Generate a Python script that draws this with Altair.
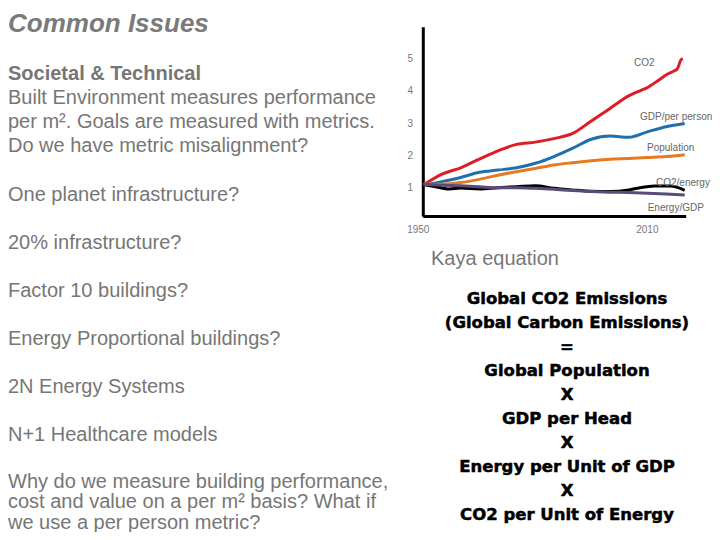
import altair as alt
import pandas as pd

# ---------------- data ----------------
co2_years = [1950, 1955, 1960, 1965, 1970, 1975, 1980, 1985, 1990, 1995, 2000, 2005, 2008, 2010, 2013, 2015, 2017, 2018, 2019, 2019.5]
co2_vals = [1.08, 1.42, 1.62, 1.89, 2.15, 2.35, 2.42, 2.53, 2.69, 3.08, 3.47, 3.86, 4.02, 4.12, 4.35, 4.51, 4.63, 4.70, 4.98, 5.02]

gdp_years = [1950, 1955, 1960, 1965, 1970, 1975, 1980, 1985, 1990, 1995, 2000, 2005, 2010, 2015, 2020]
gdp_vals = [1.08, 1.19, 1.32, 1.48, 1.55, 1.62, 1.76, 1.97, 2.23, 2.51, 2.61, 2.57, 2.74, 2.90, 3.00]

pop_years = [1950, 1955, 1960, 1965, 1970, 1975, 1980, 1985, 1990, 1995, 2000, 2005, 2010, 2015, 2020]
pop_vals = [1.11, 1.11, 1.16, 1.26, 1.39, 1.50, 1.60, 1.71, 1.78, 1.84, 1.89, 1.91, 1.94, 1.97, 2.03]

ce_years = [1950, 1953, 1957, 1960, 1965, 1970, 1975, 1980, 1985, 1990, 1995, 2000, 2005, 2008, 2012, 2016, 2018, 2020]
ce_vals = [1.10, 1.04, 0.96, 0.99, 0.96, 1.00, 1.03, 1.06, 0.98, 0.93, 0.89, 0.88, 0.93, 1.00, 1.05, 1.05, 1.01, 0.92]

eg_years = [1950, 1955, 1960, 1965, 1970, 1975, 1980, 1985, 1990, 1995, 2000, 2005, 2010, 2015, 2020]
eg_vals = [1.11, 1.08, 1.06, 1.03, 1.00, 1.00, 0.98, 0.95, 0.91, 0.88, 0.86, 0.85, 0.83, 0.80, 0.77]

series_names = ["CO2", "GDP/per person", "Population", "CO2/energy", "Energy/GDP"]
series_colors = ["#dd1c24", "#1f6fae", "#e57a20", "#000000", "#5b4b78"]

y_ticks = [1, 2, 3, 4, 5]
x_labels = [1950, 2010]

left_lines = [
    "Built Environment measures performance",
    "per m\u00b2. Goals are measured with metrics.",
    "Do we have metric misalignment?",
]
bullets = [
    "One planet infrastructure?",
    "20% infrastructure?",
    "Factor 10 buildings?",
    "Energy Proportional buildings?",
    "2N Energy Systems",
    "N+1 Healthcare models",
]
last_lines = [
    "Why do we measure building performance,",
    "cost and value on a per m\u00b2  basis? What if",
    "we use a per person metric?",
]
equation = [
    "Global CO2 Emissions",
    "(Global Carbon Emissions)",
    "=",
    "Global Population",
    "X",
    "GDP per Head",
    "X",
    "Energy per Unit of GDP",
    "X",
    "CO2 per Unit of Energy",
]

# ---------------- scales ----------------
xs = alt.Scale(domain=[1950, 2020], range=[415.3, 676.7], nice=False, zero=False)
ys = alt.Scale(domain=[0, 5], range=[211.8, 51.3], nice=False, zero=False)

FONT = "Liberation Sans"
GRAY = "#767676"


def line_layer(years, vals, color):
    df = pd.DataFrame({"year": years, "value": vals})
    return alt.Chart(df).mark_line(strokeWidth=3, color=color, interpolate="monotone").encode(
        x=alt.X("year:Q", scale=xs, axis=None),
        y=alt.Y("value:Q", scale=ys, axis=None),
        order="year:Q",
    )


def text_layer(s, x, y, size, color=GRAY, weight="normal", style="normal", align="left",
               font=FONT, stroke_w=0):
    kw = {}
    if stroke_w:
        kw = {"stroke": color, "strokeWidth": stroke_w}
    return alt.Chart(pd.DataFrame({"t": [s]})).mark_text(
        align=align, baseline="alphabetic", fontSize=size, font=font,
        fontWeight=weight, fontStyle=style, color=color, **kw,
    ).encode(x=alt.value(x), y=alt.value(y), text="t:N")


layers = []

# axes (drawn in data space)
vaxis = alt.Chart(pd.DataFrame({"year": [1950], "y1": [0.1], "y2": [6.0]})).mark_rule(
    strokeWidth=3, color="black"
).encode(x=alt.X("year:Q", scale=xs, axis=None), y=alt.Y("y1:Q", scale=ys, axis=None), y2="y2:Q")
haxis = alt.Chart(pd.DataFrame({"x1": [1950], "x2": [2020.4], "y": [0.1]})).mark_rule(
    strokeWidth=3, color="black"
).encode(x=alt.X("x1:Q", scale=xs, axis=None), x2="x2:Q", y=alt.Y("y:Q", scale=ys, axis=None))
layers += [vaxis, haxis]

for yrs, vals, col in [
    (co2_years, co2_vals, series_colors[0]),
    (gdp_years, gdp_vals, series_colors[1]),
    (pop_years, pop_vals, series_colors[2]),
    (ce_years, ce_vals, series_colors[3]),
    (eg_years, eg_vals, series_colors[4]),
]:
    layers.append(line_layer(yrs, vals, col))

# y tick labels
yt = alt.Chart(pd.DataFrame({"year": [1950] * len(y_ticks), "v": y_ticks})).mark_text(
    align="center", baseline="middle", dx=-13, fontSize=10, font=FONT, color="#777777"
).encode(x=alt.X("year:Q", scale=xs, axis=None), y=alt.Y("v:Q", scale=ys, axis=None), text="v:Q")
layers.append(yt)

# x labels
for yr, dx in zip(x_labels, [-5, 0]):
    layers.append(
        alt.Chart(pd.DataFrame({"year": [yr], "lab": [str(yr)]})).mark_text(
            align="center", baseline="alphabetic", dx=dx, fontSize=10, font=FONT, color="#777777"
        ).encode(x=alt.X("year:Q", scale=xs, axis=None), y=alt.value(224.7), text="lab:N")
    )

# series labels
for name, x, y in [
    ("CO2", 626, 58),
    ("GDP/per person", 632, 112),
    ("Population", 639, 143),
    ("CO2/energy", 648, 177.7),
    ("Energy/GDP", 639.7, 202.7),
]:
    layers.append(text_layer(name, x, y, 10, color="#666666"))

# left column text
layers.append(text_layer("Common Issues", 0, 23.5, 26, color="#7a7a7a", weight="bold", style="italic"))
layers.append(text_layer("Societal & Technical", 0, 72, 20, weight="bold"))
for i, s in enumerate(left_lines):
    layers.append(text_layer(s, 0, 96 + 24 * i, 20))
for i, s in enumerate(bullets):
    layers.append(text_layer(s, 0, 193 + 48 * i, 20))
for i, s in enumerate(last_lines):
    layers.append(text_layer(s, 0, 479.5 + 20.5 * i, 20))

# Kaya equation
layers.append(text_layer("Kaya equation", 423, 257, 20, color="#777777"))
for i, s in enumerate(equation):
    layers.append(text_layer(s, 559, 296 + 24 * i, 16.5, color="#000000", weight="bold",
                             align="center", font="DejaVu Sans", stroke_w=0.5))

chart = alt.layer(*layers).properties(
    width=704, height=524, padding=0,
    autosize=alt.AutoSizeParams(type="none"),
).configure_view(stroke=None)

chart.save("out.html", embed_options={"renderer": "svg", "actions": False})
